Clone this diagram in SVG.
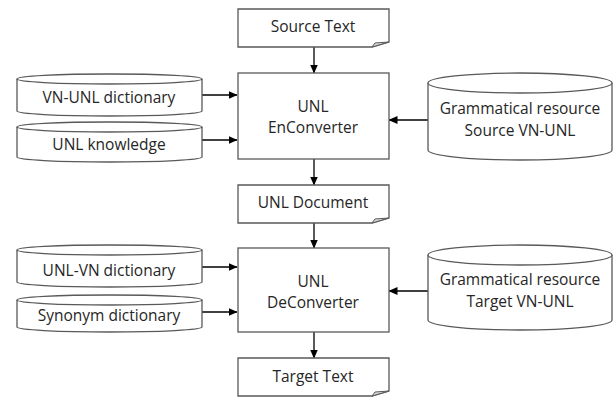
<svg xmlns="http://www.w3.org/2000/svg" width="614" height="399" viewBox="0 0 614 399">
<style>
.shape{fill:#fff;stroke:#595959;stroke-width:1.3}
.fold{fill:#d9d9d9;stroke:#595959;stroke-width:1}
.t{font-family:"Open Sans","Liberation Sans",sans-serif;font-size:15.5px;fill:#262626;text-anchor:middle}
.c{stroke:#000;stroke-width:1.3;fill:none}
</style>
<defs>
<marker id="ah" markerWidth="9" markerHeight="8" refX="8.5" refY="4" orient="auto" markerUnits="userSpaceOnUse">
<path d="M0,0 L9,4 L0,8 Z" fill="#000"/>
</marker>
</defs>
<rect width="614" height="399" fill="#fff"/>
<g id="connectors">
<line class="c" x1="314" y1="47" x2="314" y2="73" marker-end="url(#ah)"/>
<line class="c" x1="202" y1="95" x2="237" y2="95" marker-end="url(#ah)"/>
<line class="c" x1="202" y1="140" x2="237" y2="140" marker-end="url(#ah)"/>
<line class="c" x1="428" y1="120" x2="389" y2="120" marker-end="url(#ah)"/>
<line class="c" x1="314" y1="159" x2="314" y2="185" marker-end="url(#ah)"/>
<line class="c" x1="314" y1="223" x2="314" y2="248" marker-end="url(#ah)"/>
<line class="c" x1="202" y1="267" x2="237" y2="267" marker-end="url(#ah)"/>
<line class="c" x1="202" y1="312" x2="237" y2="312" marker-end="url(#ah)"/>
<line class="c" x1="428" y1="291" x2="389" y2="291" marker-end="url(#ah)"/>
<line class="c" x1="314" y1="332" x2="314" y2="358" marker-end="url(#ah)"/>
</g>
<g id="source-text">
<path class="shape" d="M238,9 H389 V42 L372,47 H238 Z"/>
<path class="fold" d="M372,47 L375,43 L389,42 Z"/>
<text class="t" x="313" y="32">Source Text</text>
</g>
<g id="enconverter">
<rect class="shape" x="238" y="73" width="151" height="86"/>
<text class="t" x="313" y="112">UNL</text>
<text class="t" x="313" y="133">EnConverter</text>
</g>
<g id="vn-unl-dictionary">
<path class="shape" d="M17,79 V111 A92.5,5 0 0 0 202,111 V79"/>
<ellipse class="shape" cx="109.5" cy="79" rx="92.5" ry="5"/>
<text class="t" x="109" y="103">VN-UNL dictionary</text>
</g>
<g id="unl-knowledge">
<path class="shape" d="M17,127 V157 A92.5,5 0 0 0 202,157 V127"/>
<ellipse class="shape" cx="109.5" cy="127" rx="92.5" ry="5"/>
<text class="t" x="109" y="150">UNL knowledge</text>
</g>
<g id="grammar-source">
<path class="shape" d="M428,83 V150 A92,10 0 0 0 612,150 V83"/>
<ellipse class="shape" cx="520" cy="83" rx="92" ry="10"/>
<text class="t" x="520" y="114">Grammatical resource</text>
<text class="t" x="520" y="136">Source VN-UNL</text>
</g>
<g id="unl-document">
<path class="shape" d="M238,185 H389 V218 L372,223 H238 Z"/>
<path class="fold" d="M372,223 L375,219 L389,218 Z"/>
<text class="t" x="313" y="208">UNL Document</text>
</g>
<g id="deconverter">
<rect class="shape" x="238" y="248" width="151" height="84"/>
<text class="t" x="313" y="287">UNL</text>
<text class="t" x="313" y="308">DeConverter</text>
</g>
<g id="unl-vn-dictionary">
<path class="shape" d="M17,250 V282 A92.5,5 0 0 0 202,282 V250"/>
<ellipse class="shape" cx="109.5" cy="250" rx="92.5" ry="5"/>
<text class="t" x="109" y="276">UNL-VN dictionary</text>
</g>
<g id="synonym-dictionary">
<path class="shape" d="M17,300 V327 A92.5,5 0 0 0 202,327 V300"/>
<ellipse class="shape" cx="109.5" cy="300" rx="92.5" ry="5"/>
<text class="t" x="109" y="321">Synonym dictionary</text>
</g>
<g id="grammar-target">
<path class="shape" d="M428,255 V320 A92,10 0 0 0 612,320 V255"/>
<ellipse class="shape" cx="520" cy="255" rx="92" ry="10"/>
<text class="t" x="520" y="285">Grammatical resource</text>
<text class="t" x="520" y="307">Target VN-UNL</text>
</g>
<g id="target-text">
<path class="shape" d="M238,358 H389 V391 L372,396 H238 Z"/>
<path class="fold" d="M372,396 L375,392 L389,391 Z"/>
<text class="t" x="313" y="382">Target Text</text>
</g>
</svg>
